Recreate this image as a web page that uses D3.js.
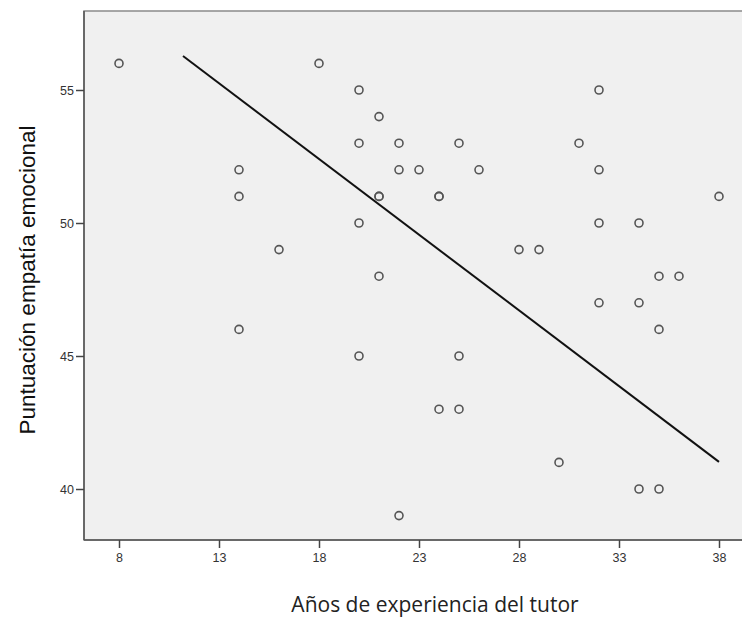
<!DOCTYPE html>
<html>
<head>
<meta charset="utf-8">
<script src="https://cdn.jsdelivr.net/npm/d3@7"></script>
<style>
  html, body { margin: 0; padding: 0; background: #ffffff; }
  svg { display: block; }
</style>
</head>
<body>
<svg id="chart" width="742" height="618"></svg>
<script>
// Years of tutor experience vs. emotional empathy score (one entry per case)
const experienceYears = [
  8, 14, 14, 14, 16, 18, 20, 20, 20, 20,
  21, 21, 21, 21, 22, 22, 22, 23, 24, 24,
  24, 25, 25, 25, 26, 28, 29, 30, 31, 32,
  32, 32, 32, 34, 34, 34, 35, 35, 35, 36, 38
];
const empathyScores = [
  56, 52, 51, 46, 49, 56, 55, 53, 50, 45,
  54, 51, 51, 48, 53, 52, 39, 52, 51, 51,
  43, 53, 45, 43, 52, 49, 49, 41, 53, 55,
  52, 50, 47, 50, 47, 40, 48, 46, 40, 48, 51
];

// Fitted linear trend, start and end of the drawn segment
const fitX = [11.2, 38];
const fitY = [56.28, 41.02];

const xTicks = [8, 13, 18, 23, 28, 33, 38];
const yTicks = [40, 45, 50, 55];

const xTitle = "Años de experiencia del tutor";
const yTitle = "Puntuación empatía emocional";

const svg = d3.select("#chart");

const frame = { left: 84, top: 11, right: 760, bottom: 540 };

const x = d3.scaleLinear().domain([8, 38]).range([119, 719]);
const y = d3.scaleLinear().domain([40, 55]).range([489, 90]);

// plot background
svg.append("rect")
  .attr("x", frame.left).attr("y", frame.top)
  .attr("width", frame.right - frame.left)
  .attr("height", frame.bottom - frame.top)
  .attr("fill", "#f0f0f0")
  .attr("stroke", "#8a8a8a")
  .attr("stroke-width", 1.5);

const tickFont = "'Liberation Sans Narrow', 'Arial Narrow', 'Liberation Sans', sans-serif";

// y axis
const yAxis = svg.append("g")
  .attr("transform", `translate(${frame.left},0)`)
  .call(d3.axisLeft(y).tickValues(yTicks).tickSize(8).tickPadding(2).tickSizeOuter(0));
yAxis.select(".domain")
  .attr("d", `M0,${frame.top}V${frame.bottom}`)
  .attr("stroke", "#555").attr("stroke-width", 1.5);
yAxis.selectAll(".tick line").attr("stroke", "#444").attr("stroke-width", 1.5);
yAxis.selectAll(".tick text")
  .attr("font-family", tickFont).attr("font-size", 12.5).attr("fill", "#333");

// x axis
const xAxis = svg.append("g")
  .attr("transform", `translate(0,${frame.bottom})`)
  .call(d3.axisBottom(x).tickValues(xTicks).tickSize(8).tickPadding(5).tickSizeOuter(0));
xAxis.select(".domain")
  .attr("d", `M${frame.left},0H${frame.right}`)
  .attr("stroke", "#555").attr("stroke-width", 1.5);
xAxis.selectAll(".tick line").attr("stroke", "#444").attr("stroke-width", 1.5);
xAxis.selectAll(".tick text")
  .attr("font-family", tickFont).attr("font-size", 12.5).attr("fill", "#333");

// fitted line
const fitPts = fitX.map((v, i) => [v, fitY[i]]);
svg.append("path")
  .datum(fitPts)
  .attr("d", d3.line().x(d => x(d[0])).y(d => y(d[1])))
  .attr("fill", "none")
  .attr("stroke", "#111")
  .attr("stroke-width", 2);

// observations
const points = experienceYears.map((v, i) => ({ xv: v, yv: empathyScores[i] }));
svg.append("g")
  .selectAll("circle")
  .data(points)
  .join("circle")
  .attr("cx", d => x(d.xv))
  .attr("cy", d => y(d.yv))
  .attr("r", 4)
  .attr("fill", "none")
  .attr("stroke", "#555")
  .attr("stroke-width", 1.6);

// axis titles
svg.append("text")
  .attr("x", 435).attr("y", 612)
  .attr("text-anchor", "middle")
  .attr("font-family", "'Open Sans', 'Liberation Sans', sans-serif")
  .attr("font-size", 21)
  .attr("fill", "#222")
  .text(xTitle);

svg.append("text")
  .attr("transform", "translate(35,280) rotate(-90)")
  .attr("text-anchor", "middle")
  .attr("font-family", "'Liberation Sans', Arial, sans-serif")
  .attr("font-size", 22.5)
  .attr("fill", "#111")
  .text(yTitle);
</script>
</body>
</html>
